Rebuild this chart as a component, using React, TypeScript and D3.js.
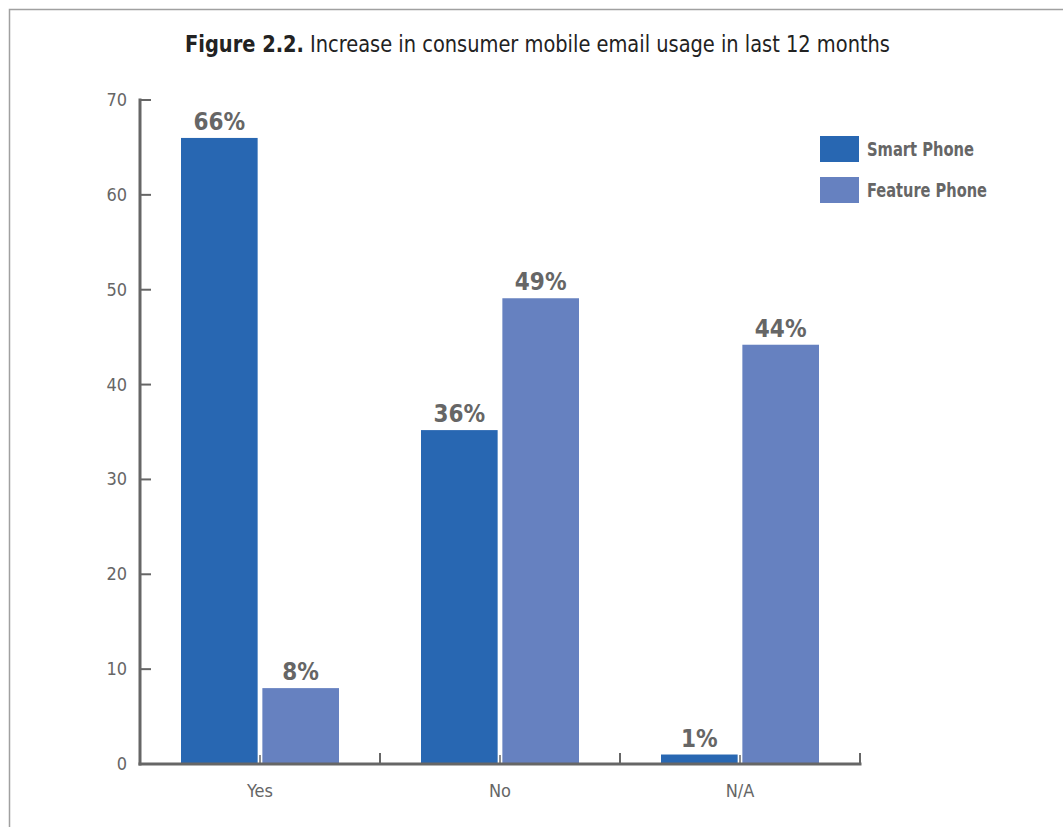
import React from "react";
import * as d3 from "d3";

const categories = ["Yes", "No", "N/A"];
const seriesNames = ["Smart Phone", "Feature Phone"];
const smartPhone = [66, 35.2, 1];
const featurePhone = [8, 49.1, 44.2];
const smartLabels = ["66%", "36%", "1%"];
const featureLabels = ["8%", "49%", "44%"];
const yTicks = [0, 10, 20, 30, 40, 50, 60, 70];
const colors = ["#2867b2", "#6681c0"];

const W = 1063;
const H = 827;
const FONT = "'Liberation Sans Narrow', 'DejaVu Sans Condensed', 'Liberation Sans', sans-serif";

export default function App() {
  const x0 = 140, x1 = 860, yBottom = 764, yTop = 100;
  const x = d3.scaleBand<string>().domain(categories).range([x0, x1]).paddingInner(0).paddingOuter(0);
  const y = d3.scaleLinear().domain([0, 70]).range([yBottom, yTop]);
  const groupW = 158;
  const xs = d3.scaleBand<string>().domain(seriesNames).range([0, groupW]).paddingInner(0.058);
  const series = [smartPhone, featurePhone];
  const labels = [smartLabels, featureLabels];
  const gray = "#666";
  const legendLens = [107, 120];

  const boundaryTicks = d3.range(categories.length + 1).map((i) => x0 + i * x.bandwidth());

  return (
    <svg width={W} height={H} style={{ position: "absolute", left: 0, top: 0, background: "#fff" }}>
      <rect x={9.5} y={9.5} width={W + 20} height={H + 20} fill="#fff" stroke="#a0a0a0" strokeWidth={1.5} />
      <text x={185} y={52} textLength={705} lengthAdjust="spacingAndGlyphs" fontFamily={FONT} fontSize={23} fill="#222">
        <tspan fontWeight="bold">Figure 2.2.</tspan>
        <tspan> Increase in consumer mobile email usage in last 12 months</tspan>
      </text>

      {/* bars */}
      {categories.map((c, ci) => {
        const gx = (x(c) as number) + (x.bandwidth() - groupW) / 2;
        return (
          <g key={c}>
            {seriesNames.map((s, si) => {
              const v = series[si][ci];
              const bx = gx + (xs(s) as number);
              return (
                <g key={s}>
                  <rect x={bx} y={y(v)} width={xs.bandwidth()} height={yBottom - y(v)} fill={colors[si]} />
                  <text
                    x={bx + xs.bandwidth() / 2}
                    y={y(v) - 8}
                    textAnchor="middle"
                    fontFamily={FONT}
                    fontWeight="bold"
                    fontSize={24}
                    fill={gray}
                  >
                    {labels[si][ci]}
                  </text>
                </g>
              );
            })}
          </g>
        );
      })}

      {/* y axis */}
      <line x1={x0} x2={x0} y1={yTop - 1.5} y2={yBottom + 1.5} stroke={gray} strokeWidth={3} />
      {yTicks.map((t) => (
        <g key={t}>
          <line x1={x0} x2={x0 + 11} y1={y(t)} y2={y(t)} stroke={gray} strokeWidth={2} />
          <text x={127} y={y(t) + 6} textAnchor="end" fontFamily={FONT} fontSize={18} fill={gray}>
            {t}
          </text>
        </g>
      ))}

      {/* x axis */}
      <line x1={x0 - 1.5} x2={x1 + 1.5} y1={yBottom} y2={yBottom} stroke={gray} strokeWidth={3} />
      {boundaryTicks.map((t, i) => (
        <line key={"b" + i} x1={t} x2={t} y1={yBottom} y2={yBottom - 11} stroke={gray} strokeWidth={2} />
      ))}
      {categories.map((c) => {
        const cx = (x(c) as number) + x.bandwidth() / 2;
        return (
          <g key={c}>
            <line x1={cx} x2={cx} y1={yBottom} y2={yBottom - 9} stroke={gray} strokeWidth={1.5} />
            <text x={cx} y={797} textAnchor="middle" fontFamily={FONT} fontSize={18} fill={gray}>
              {c}
            </text>
          </g>
        );
      })}

      {/* legend */}
      {seriesNames.map((s, i) => (
        <g key={s} transform={`translate(820, ${136 + i * 41})`}>
          <rect x={0} y={0} width={39} height={26} fill={colors[i]} />
          <text
            x={47}
            y={20}
            textLength={legendLens[i]}
            lengthAdjust="spacingAndGlyphs"
            fontFamily={FONT}
            fontWeight="bold"
            fontSize={19}
            fill={gray}
          >
            {s}
          </text>
        </g>
      ))}
    </svg>
  );
}
